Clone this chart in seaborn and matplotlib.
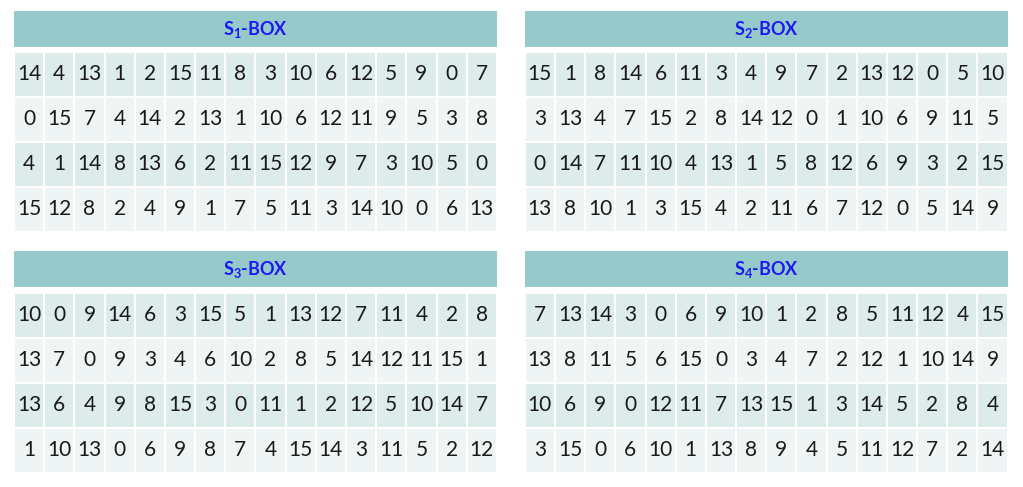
import numpy as np
import matplotlib
matplotlib.use("Agg")
import matplotlib.pyplot as plt
import seaborn as sns
from matplotlib.colors import ListedColormap

sns.set_theme(style="white")
plt.rcParams['font.family'] = ['Lato', 'DejaVu Sans']
plt.rcParams['mathtext.fontset'] = 'custom'
plt.rcParams['mathtext.bf'] = 'Lato:bold'
plt.rcParams['mathtext.rm'] = 'Lato:bold'
plt.rcParams['mathtext.default'] = 'bf'

# S-box tables
box_titles = [r'S$_{1}$-BOX', r'S$_{2}$-BOX', r'S$_{3}$-BOX', r'S$_{4}$-BOX']

s1 = [[14, 4, 13, 1, 2, 15, 11, 8, 3, 10, 6, 12, 5, 9, 0, 7],
      [0, 15, 7, 4, 14, 2, 13, 1, 10, 6, 12, 11, 9, 5, 3, 8],
      [4, 1, 14, 8, 13, 6, 2, 11, 15, 12, 9, 7, 3, 10, 5, 0],
      [15, 12, 8, 2, 4, 9, 1, 7, 5, 11, 3, 14, 10, 0, 6, 13]]

s2 = [[15, 1, 8, 14, 6, 11, 3, 4, 9, 7, 2, 13, 12, 0, 5, 10],
      [3, 13, 4, 7, 15, 2, 8, 14, 12, 0, 1, 10, 6, 9, 11, 5],
      [0, 14, 7, 11, 10, 4, 13, 1, 5, 8, 12, 6, 9, 3, 2, 15],
      [13, 8, 10, 1, 3, 15, 4, 2, 11, 6, 7, 12, 0, 5, 14, 9]]

s3 = [[10, 0, 9, 14, 6, 3, 15, 5, 1, 13, 12, 7, 11, 4, 2, 8],
      [13, 7, 0, 9, 3, 4, 6, 10, 2, 8, 5, 14, 12, 11, 15, 1],
      [13, 6, 4, 9, 8, 15, 3, 0, 11, 1, 2, 12, 5, 10, 14, 7],
      [1, 10, 13, 0, 6, 9, 8, 7, 4, 15, 14, 3, 11, 5, 2, 12]]

s4 = [[7, 13, 14, 3, 0, 6, 9, 10, 1, 2, 8, 5, 11, 12, 4, 15],
      [13, 8, 11, 5, 6, 15, 0, 3, 4, 7, 2, 12, 1, 10, 14, 9],
      [10, 6, 9, 0, 12, 11, 7, 13, 15, 1, 3, 14, 5, 2, 8, 4],
      [3, 15, 0, 6, 10, 1, 13, 8, 9, 4, 5, 11, 12, 7, 2, 14]]

boxes = [s1, s2, s3, s4]

header_color = '#96CACA'
row_colors = ListedColormap(['#DDEBEA', '#EEF5F4'])
title_color = '#1A1AF0'

fig = plt.figure(figsize=(10.23, 4.87), dpi=100)

# (left, header bottom, grid bottom) for each table, in figure fraction
lefts = [0.0137, 0.513, 0.0137, 0.513]
head_bottoms = [0.9035, 0.9035, 0.4107, 0.4107]
grid_bottoms = [0.5236, 0.5236, 0.0287, 0.0287]
width = 0.472
head_h = 0.073
grid_h = 0.370

for i, box in enumerate(boxes):
    vals = np.array(box)
    parity = np.tile(np.arange(vals.shape[0]) % 2, (vals.shape[1], 1)).T

    # header bar
    hax = fig.add_axes([lefts[i], head_bottoms[i], width, head_h])
    hax.set_facecolor(header_color)
    hax.set_xticks([])
    hax.set_yticks([])
    for sp in hax.spines.values():
        sp.set_visible(False)
    hax.text(0.5, 0.5, box_titles[i], ha='center', va='center',
             color=title_color, fontsize=13, fontweight='bold',
             transform=hax.transAxes)

    # value grid
    gax = fig.add_axes([lefts[i], grid_bottoms[i], width, grid_h])
    sns.heatmap(parity, annot=vals, fmt='d', cmap=row_colors, vmin=0, vmax=1,
                cbar=False, linewidths=1.3, linecolor='white',
                annot_kws={'fontsize': 15, 'color': '#1a1a1a'}, ax=gax)
    gax.set_xticks([])
    gax.set_yticks([])

plt.savefig('out.png', dpi=100)
